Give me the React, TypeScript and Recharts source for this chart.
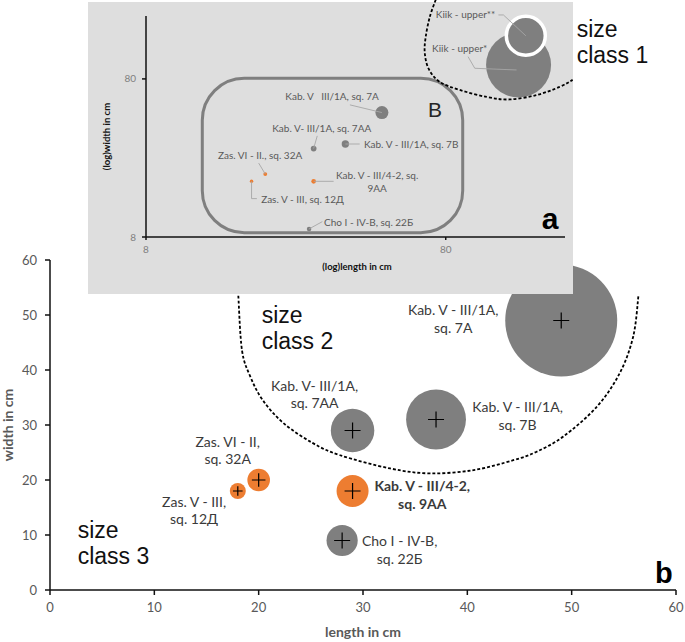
import React from "react";
import { ScatterChart, Scatter, XAxis, YAxis, ZAxis } from "recharts";

// samples shared by both panels
const sampleNames = [
  "Kab. V - III/1A, sq. 7A",
  "Kab. V - III/1A, sq. 7B",
  "Kab. V- III/1A, sq. 7AA",
  "Kab. V - III/4-2, sq. 9AA",
  "Cho I - IV-B, sq. 22Б",
  "Zas. VI - II, sq. 32A",
  "Zas. V - III, sq. 12Д",
];
const sampleLength = [49, 37, 29, 29, 28, 20, 18];
const sampleWidth = [49, 31, 29, 18, 9, 20, 18];
const sampleSize = [49, 14, 7.4, 4, 3.8, 2, 1];
const sampleOrange = [false, false, false, true, false, true, true];

// only in the log inset
const kiikNames = ["Kiik - upper*", "Kiik - upper**"];
const kiikLength = [140, 148];
const kiikWidth = [98, 150];
const kiikSize = [1286, 535];

const linearTicks = [0, 10, 20, 30, 40, 50, 60];
const logTicks = [8, 80];

const mainLabelText = [
  ["Kab. V - III/1A,", "sq. 7A"],
  ["Kab. V - III/1A,", "sq. 7B"],
  ["Kab. V- III/1A,", "sq. 7AA"],
  ["Kab. V - III/4-2,", "sq. 9AA"],
  ["Cho I - IV-B,", "sq. 22Б"],
  ["Zas. VI - II,", "sq. 32A"],
  ["Zas. V - III,", "sq. 12Д"],
];
const insetLabelText = [
  ["Kab. V   III/1A, sq. 7A"],
  ["Kab. V - III/1A, sq. 7B"],
  ["Kab. V- III/1A, sq. 7AA"],
  ["Kab. V - III/4-2, sq.", "9AA"],
  ["Cho I - IV-B, sq. 22Б"],
  ["Zas. VI - II., sq. 32A"],
  ["Zas. V - III, sq. 12Д"],
  ["Kiik - upper*"],
  ["Kiik - upper**"],
];

// size-class boundaries, in the units of each panel
const classTwoBoundary = [
  [18.05, 53.5], [18.4, 43.6], [19.2, 38.8], [20.4, 34.5], [22.4, 30.3],
  [25.2, 26.7], [27.8, 24.5], [32.6, 22.1], [36.4, 21.2], [40.6, 21.8],
  [44.4, 23.6], [46.6, 25.1], [49.2, 27.9], [52.4, 33.3], [54.6, 39.4],
  [55.9, 46.1], [56.4, 53.5],
];
const classOneBoundary = [
  [74.1, 253.5], [70.8, 197.9], [68.6, 147.7], [68.1, 116.9], [70.2, 92.5],
  [76.4, 76.6], [89.1, 68.1], [109.6, 61.5], [130.7, 59.3], [160.9, 63.3],
  [191.9, 71.2], [212.1, 78.9],
];

// label placement (offsets from bubble centre)
const mainLabelLayout = [
  { dx: -108, dy: -10.5, bold: false },
  { dx: 81.5, dy: -12.3, bold: false },
  { dx: -38, dy: -44.7, bold: false },
  { dx: 69.7, dy: -5, bold: true },
  { dx: 57.5, dy: 0.7, bold: false },
  { dx: -31, dy: -38.3, bold: false },
  { dx: -43.7, dy: 10.7, bold: false },
];
const insetLabelLayout = [
  { dx: -96.6, dy: -16, anchor: "start", leader: [[-32, -7.7], [0, 0]] },
  { dx: 18.6, dy: 0.3, anchor: "start", leader: [[0, 0], [14.3, 0]] },
  { dx: -41.4, dy: -20, anchor: "start", leader: [[3.6, -12.7], [0, 0]] },
  { dx: 63.5, dy: -5.7, anchor: "middle", leader: [[0, 0], [20, 0]] },
  { dx: 15, dy: -6.6, anchor: "start", leader: [[0, 0], [13.3, -7.3]] },
  { dx: -47.3, dy: -18.7, anchor: "start", leader: [[-6.6, -11], [0, 0]] },
  { dx: 9.6, dy: 18.6, anchor: "start", leader: [[0, 0], [0, 17.3], [5.3, 17.3]] },
  { dx: -86.5, dy: -16.7, anchor: "start", leader: [[-50.5, -8.3], [-43.8, 3.3], [-2, 5]] },
  { dx: -90, dy: -20.8, anchor: "start", leader: [[-27.4, -20.8], [-22.4, -20.8], [0, 0]] },
];

const mainData = sampleNames.map((name, i) => ({
  name,
  idx: i,
  length: sampleLength[i],
  width: sampleWidth[i],
  size: sampleSize[i],
  orange: sampleOrange[i],
}));
const insetData = [
  ...mainData,
  ...kiikNames.map((name, i) => ({
    name,
    idx: 7 + i,
    length: kiikLength[i],
    width: kiikWidth[i],
    size: kiikSize[i],
    orange: false,
    ring: i === 1,
  })),
];

const GRAY = "#7f7f7f";
const ORANGE = "#ed7d31";
const FONT = "Lato, 'Open Sans', sans-serif";
const ARIAL = "'Liberation Sans', Arial, sans-serif";

// chart geometry, page pixels
const MAIN = { left: 50, top: 260, right: 676, bottom: 590 };
const INSET_BOX = { left: 88, top: 2, width: 485, height: 292 };
const INSET = { left: 146, top: 16, right: 565, bottom: 237 };

const mx = (v: number) => MAIN.left + (v / 60) * (MAIN.right - MAIN.left);
const my = (v: number) => MAIN.bottom - (v / 60) * (MAIN.bottom - MAIN.top);
const logPos = (v: number) => Math.log10(v / 8) / Math.log10(25);
const ix = (v: number) => INSET.left + logPos(v) * (INSET.right - INSET.left);
const iy = (v: number) => INSET.bottom - logPos(v) * (INSET.bottom - INSET.top);

const smoothPath = (pts: number[][]) => {
  let d = `M${pts[0][0]},${pts[0][1]}`;
  for (let i = 0; i < pts.length - 1; i++) {
    const p0 = pts[i - 1] || pts[i];
    const p1 = pts[i];
    const p2 = pts[i + 1];
    const p3 = pts[i + 2] || p2;
    const c1 = [p1[0] + (p2[0] - p0[0]) / 6, p1[1] + (p2[1] - p0[1]) / 6];
    const c2 = [p2[0] - (p3[0] - p1[0]) / 6, p2[1] - (p3[1] - p1[1]) / 6];
    d += ` C${c1[0]},${c1[1]} ${c2[0]},${c2[1]} ${p2[0]},${p2[1]}`;
  }
  return d;
};

const MainBubble = (props: any) => {
  const { cx, cy, width, payload } = props;
  const r = width / 2;
  const arm = Math.min(8, r * 0.6);
  const lay = mainLabelLayout[payload.idx];
  const lines = mainLabelText[payload.idx];
  const x = cx + lay.dx;
  return (
    <g>
      <circle cx={cx} cy={cy} r={r} fill={payload.orange ? ORANGE : GRAY} />
      <path
        d={`M${cx - arm},${cy}H${cx + arm}M${cx},${cy - arm}V${cy + arm}`}
        stroke="#000"
        strokeWidth={1.2}
      />
      {lines.map((t, k) => (
        <text
          key={k}
          x={x}
          y={cy + lay.dy + k * 17.5 + 5}
          textAnchor="middle"
          fontSize={14}
          fontFamily={FONT}
          fontWeight={lay.bold ? 700 : 400}
          fill="#3a3a3a"
        >
          {t}
        </text>
      ))}
    </g>
  );
};

const InsetBubble = (props: any) => {
  const { cx, cy, width, payload } = props;
  const r = width / 2;
  const lay = insetLabelLayout[payload.idx];
  const lines = insetLabelText[payload.idx];
  const leader = lay.leader.map((p) => `${cx + p[0]},${cy + p[1]}`).join(" ");
  return (
    <g>
      <circle
        cx={cx}
        cy={cy}
        r={payload.ring ? r - 1.5 : r}
        fill={payload.orange ? ORANGE : GRAY}
        stroke={payload.ring ? "#fff" : "none"}
        strokeWidth={3.5}
      />
      <polyline points={leader} fill="none" stroke="#a6a6a6" strokeWidth={0.9} />
      {lines.map((t, k) => (
        <text
          key={k}
          x={cx + lay.dx}
          y={cy + lay.dy + k * 12.7 + 3.5}
          textAnchor={lay.anchor as any}
          fontSize={10}
          fontFamily={FONT}
          fill="#595959"
          style={{ whiteSpace: "pre" }}
        >
          {t}
        </text>
      ))}
    </g>
  );
};

const BigText = ({ x, y, lines }: { x: number; y: number; lines: string[] }) => (
  <>
    {lines.map((t, k) => (
      <text key={k} x={x} y={y + k * 25.5} fontSize={23} fontFamily={ARIAL} fill="#111">
        {t}
      </text>
    ))}
  </>
);

const overlay: React.CSSProperties = {
  position: "absolute",
  left: 0,
  top: 0,
  overflow: "visible",
  pointerEvents: "none",
};

export default function App() {
  const mainTick = { fill: "#595959", fontSize: 13, fontFamily: FONT };
  const insetTick = { fill: "#808080", fontSize: 10, fontFamily: FONT };
  const axisStroke = { stroke: "#111", strokeWidth: 1.5 };

  return (
    <div
      style={{
        position: "absolute",
        left: 0,
        top: 0,
        width: 685,
        height: 642,
        background: "#fff",
        overflow: "hidden",
      }}
    >
      <ScatterChart
        width={685}
        height={642}
        margin={{ top: MAIN.top, right: 685 - MAIN.right, left: 0, bottom: 642 - MAIN.bottom - 30 }}
      >
        <XAxis
          type="number"
          dataKey="length"
          domain={[0, 60]}
          ticks={linearTicks}
          interval={0}
          height={30}
          axisLine={axisStroke}
          tickLine={axisStroke}
          tickSize={5}
          tickMargin={8}
          tick={mainTick}
        />
        <YAxis
          type="number"
          dataKey="width"
          domain={[0, 60]}
          ticks={linearTicks}
          interval={0}
          width={MAIN.left}
          axisLine={axisStroke}
          tickLine={axisStroke}
          tickSize={5}
          tickMargin={8}
          tick={mainTick}
        />
        <ZAxis type="number" dataKey="size" domain={[0, 49]} range={[0, 9852]} />
        <Scatter data={mainData} shape={MainBubble} isAnimationActive={false} />
      </ScatterChart>

      <svg width={685} height={642} style={overlay}>
        <path
          d={smoothPath(classTwoBoundary.map(([a, b]) => [mx(a), my(b)]))}
          fill="none"
          stroke="#000"
          strokeWidth={1.8}
          strokeDasharray="3 2"
        />
        <BigText x={261.7} y={323.3} lines={["size", "class 2"]} />
        <BigText x={77.7} y={538.3} lines={["size", "class 3"]} />
        <text x={655} y={583} fontSize={29} fontWeight={700} fontFamily={ARIAL} fill="#000">
          b
        </text>
        <text
          x={(MAIN.left + MAIN.right) / 2}
          y={636.5}
          textAnchor="middle"
          fontSize={14}
          fontWeight={700}
          fontFamily={FONT}
          fill="#595959"
        >
          length in cm
        </text>
        <text
          x={13}
          y={(MAIN.top + MAIN.bottom) / 2}
          textAnchor="middle"
          fontSize={14}
          fontWeight={700}
          fontFamily={FONT}
          fill="#595959"
          transform={`rotate(-90 13 ${(MAIN.top + MAIN.bottom) / 2})`}
        >
          width in cm
        </text>
      </svg>

      <div
        style={{
          position: "absolute",
          left: INSET_BOX.left,
          top: INSET_BOX.top,
          width: INSET_BOX.width,
          height: INSET_BOX.height,
          background: "#dedede",
        }}
      >
        <ScatterChart
          width={INSET_BOX.width}
          height={INSET_BOX.height}
          margin={{
            top: INSET.top - INSET_BOX.top,
            right: INSET_BOX.left + INSET_BOX.width - INSET.right,
            left: 0,
            bottom: INSET_BOX.top + INSET_BOX.height - INSET.bottom - 30,
          }}
        >
          <XAxis
            type="number"
            dataKey="length"
            scale="log"
            domain={[8, 200]}
            ticks={logTicks}
            interval={0}
            height={30}
            axisLine={axisStroke}
            tickLine={axisStroke}
            tickSize={3}
            tickMargin={6}
            tick={insetTick}
          />
          <YAxis
            type="number"
            dataKey="width"
            scale="log"
            domain={[8, 200]}
            ticks={logTicks}
            interval={0}
            width={INSET.left - INSET_BOX.left}
            axisLine={axisStroke}
            tickLine={axisStroke}
            tickSize={4}
            tickMargin={6}
            tick={insetTick}
          />
          <ZAxis type="number" dataKey="size" domain={[0, 1300]} range={[6.5, 3354]} />
          <Scatter data={insetData} shape={InsetBubble} isAnimationActive={false} />
        </ScatterChart>
      </div>

      <svg width={685} height={642} style={overlay}>
        <rect
          x={202.3}
          y={78.3}
          width={260.4}
          height={154.4}
          rx={42}
          fill="none"
          stroke="#7f7f7f"
          strokeWidth={3}
        />
        <path
          d={smoothPath(classOneBoundary.map(([a, b]) => [ix(a), iy(b)]))}
          fill="none"
          stroke="#000"
          strokeWidth={1.8}
          strokeDasharray="3 2"
        />
        <text x={428} y={117} fontSize={21} fontFamily={ARIAL} fill="#262626">
          B
        </text>
        <text x={541.7} y={228.5} fontSize={30} fontWeight={700} fontFamily={ARIAL} fill="#000">
          a
        </text>
        <BigText x={576.7} y={37} lines={["size", "class 1"]} />
        <text
          x={357}
          y={269.5}
          textAnchor="middle"
          fontSize={9.5}
          fontWeight={700}
          fontFamily={FONT}
          fill="#111"
        >
          (log)length in cm
        </text>
        <text
          x={110}
          y={136.5}
          textAnchor="middle"
          fontSize={9.5}
          fontWeight={700}
          fontFamily={FONT}
          fill="#111"
          transform="rotate(-90 110 136.5)"
        >
          (log)width in cm
        </text>
      </svg>
    </div>
  );
}
